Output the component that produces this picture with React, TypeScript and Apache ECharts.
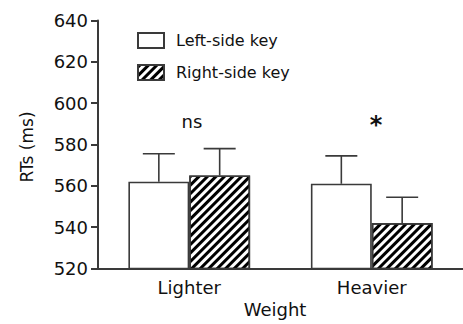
import React, { useEffect, useRef } from "react";
import * as echarts from "echarts";

const categories = ["Lighter", "Heavier"];
const seriesNames = ["Left-side key", "Right-side key"];
const leftMeans = [562, 561];
const leftErrors = [13.5, 13.5];
const rightMeans = [565, 542];
const rightErrors = [13, 12.5];
const yTicks = [520, 540, 560, 580, 600, 620, 640];
const annotations = ["ns", "*"];
const yTitle = "RTs (ms)";
const xTitle = "Weight";

const FONT = "DejaVu Sans, Arial, sans-serif";
const AXIS_COLOR = "#3a3a3a";

export default function App() {
  const ref = useRef<HTMLDivElement>(null);
  useEffect(() => {
    if (!ref.current) return;
    const chart = echarts.init(ref.current, null, { renderer: "svg" });
    const catGap = 1 / 3;
    const makeErr = (means: number[], errs: number[], side: number) => ({
      type: "custom",
      z: 1,
      data: means.map((m, i) => [i, m, errs[i]]),
      renderItem: (params: any, api: any) => {
        const i = api.value(0);
        const m = api.value(1);
        const e = api.value(2);
        const bandW = api.size([1, 0])[0];
        const bw = (bandW * (1 - catGap)) / 2;
        const base = api.coord([i, m]);
        const top = api.coord([i, m + e]);
        const x = base[0] + (side * bw) / 2;
        const half = 16;
        const style = { stroke: AXIS_COLOR, lineWidth: 1.6, fill: null };
        return {
          type: "group",
          children: [
            { type: "line", shape: { x1: x, y1: base[1], x2: x, y2: top[1] }, style },
            { type: "line", shape: { x1: x - half, y1: top[1], x2: x + half, y2: top[1] }, style },
          ],
        };
      },
    });
    chart.setOption({
      animation: false,
      grid: { left: 98, top: 20.5, right: -7, bottom: 55.5, containLabel: false },
      legend: {
        data: seriesNames,
        orient: "vertical",
        left: 137,
        top: 32,
        padding: 0,
        icon: "rect",
        itemWidth: 26,
        itemHeight: 15,
        itemGap: 15,
        textStyle: { fontFamily: FONT, fontSize: 16, color: "#111", padding: [0, 0, 0, 7] },
      },
      xAxis: {
        type: "category",
        data: categories,
        axisLine: { lineStyle: { color: AXIS_COLOR, width: 2 } },
        axisTick: { show: false },
        axisLabel: { fontFamily: FONT, fontSize: 18, color: "#111", margin: 10 },
      },
      yAxis: {
        type: "value",
        min: 520,
        max: 640,
        interval: 20,
        splitLine: { show: false },
        axisLine: { show: true, lineStyle: { color: AXIS_COLOR, width: 2 } },
        axisTick: { show: true, length: 7, lineStyle: { color: AXIS_COLOR, width: 2 } },
        axisLabel: {
          fontFamily: FONT,
          fontSize: 18,
          color: "#111",
          margin: 10,
          formatter: (v: number) => (yTicks.includes(v) ? String(v) : ""),
        },
      },
      graphic: [
        {
          type: "text",
          x: 27,
          y: 147,
          rotation: Math.PI / 2,
          style: {
            text: yTitle,
            font: `17px ${FONT}`,
            fill: "#111",
            textAlign: "center",
            textVerticalAlign: "middle",
          },
        },
        {
          type: "text",
          x: 275,
          y: 300,
          style: { text: xTitle, font: `18px ${FONT}`, fill: "#111", textAlign: "center" },
        },
        {
          type: "text",
          x: 192,
          y: 112,
          style: { text: annotations[0], font: `18px ${FONT}`, fill: "#111", textAlign: "center" },
        },
        {
          type: "text",
          x: 376,
          y: 113,
          style: { text: annotations[1], font: `bold 24px ${FONT}`, fill: "#111", textAlign: "center" },
        },
      ],
      series: [
        {
          name: seriesNames[0],
          type: "bar",
          data: leftMeans,
          barGap: "0%",
          barCategoryGap: "33.3%",
          itemStyle: { color: "#fff", borderColor: AXIS_COLOR, borderWidth: 1.6 },
        },
        {
          name: seriesNames[1],
          type: "bar",
          data: rightMeans,
          barGap: "0%",
          barCategoryGap: "33.3%",
          itemStyle: {
            color: "#fff",
            borderColor: AXIS_COLOR,
            borderWidth: 1.6,
            decal: {
              symbol: "rect",
              symbolSize: 1,
              dashArrayX: [1, 0],
              dashArrayY: [2.2, 2.5],
              rotation: -Math.PI / 4,
              color: "#000",
              backgroundColor: "#fff",
            },
          },
        },
        makeErr(leftMeans, leftErrors, -1),
        makeErr(rightMeans, rightErrors, 1),
      ],
    });
    return () => chart.dispose();
  }, []);
  return (
    <div style={{ position: "absolute", left: 0, top: 0 }}>
      <div ref={ref} style={{ width: 463, height: 324 }} />
    </div>
  );
}
